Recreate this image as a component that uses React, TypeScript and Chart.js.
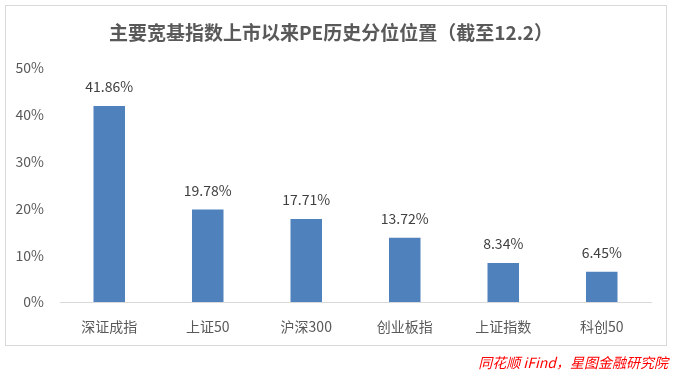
import React, { useEffect, useRef } from "react";
import { Chart, registerables } from "chart.js";

Chart.register(...registerables);

const categories = ["深证成指", "上证50", "沪深300", "创业板指", "上证指数", "科创50"];
const values = [41.86, 19.78, 17.71, 13.72, 8.34, 6.45];
const yTicks = [0, 10, 20, 30, 40, 50];
const title = "主要宽基指数上市以来PE历史分位位置（截至12.2）";
const source = "同花顺 iFind，星图金融研究院";

const FONT = "'Noto Sans CJK SC', 'Microsoft YaHei', sans-serif";

const labelPlugin = {
  id: "barLabels",
  afterDatasetsDraw(chart: any) {
    const { ctx } = chart;
    const meta = chart.getDatasetMeta(0);
    ctx.save();
    ctx.font = `14px ${FONT}`;
    ctx.fillStyle = "#404040";
    ctx.textAlign = "center";
    ctx.textBaseline = "middle";
    meta.data.forEach((bar: any, i: number) => {
      ctx.fillText(values[i].toFixed(2) + "%", bar.x, bar.y - 19);
    });
    ctx.restore();
  },
};

const titlePlugin = {
  id: "customTitle",
  afterDraw(chart: any) {
    const { ctx } = chart;
    ctx.save();
    ctx.font = `bold 19px ${FONT}`;
    ctx.fillStyle = "#595959";
    ctx.textAlign = "center";
    ctx.textBaseline = "middle";
    ctx.fillText(title, 331, 33);
    ctx.restore();
  },
};

export default function App() {
  const ref = useRef<HTMLCanvasElement>(null);
  useEffect(() => {
    if (!ref.current) return;
    const chart = new Chart(ref.current, {
      type: "bar",
      data: {
        labels: categories,
        datasets: [
          {
            data: values,
            backgroundColor: "#4f81bd",
            categoryPercentage: 1,
            barPercentage: 0.32,
          },
        ],
      },
      options: {
        animation: false,
        responsive: false,
        maintainAspectRatio: false,
        layout: { padding: { top: 68, left: 0, right: 22, bottom: 0 } },
        plugins: { legend: { display: false }, tooltip: { enabled: false }, title: { display: false } },
        scales: {
          x: {
            grid: { display: false, drawTicks: false },
            border: { display: true, color: "#d9d9d9", width: 1 },
            ticks: { color: "#595959", font: { size: 14, family: FONT }, padding: 16 },
            afterFit(scale: any) {
              scale.height = 71;
            },
          },
          y: {
            min: 0,
            max: 50,
            afterBuildTicks(scale: any) {
              scale.ticks = yTicks.map((v) => ({ value: v }));
            },
            grid: { display: false, drawTicks: false },
            border: { display: false },
            ticks: {
              color: "#595959",
              font: { size: 14, family: FONT },
              padding: 16,
              callback: (v: any) => v + "%",
            },
            afterFit(scale: any) {
              scale.width = 60;
            },
          },
        },
      },
      plugins: [labelPlugin, titlePlugin],
    });
    return () => chart.destroy();
  }, []);
  return (
    <div style={{ position: "fixed", left: 0, top: 0, width: 673, height: 373, background: "#fff" }}>
      <div
        style={{
          position: "absolute",
          left: 5,
          top: 5,
          width: 662,
          height: 341,
          border: "1px solid #d9d9d9",
          boxSizing: "border-box",
        }}
      />
      <canvas ref={ref} width={673} height={373} style={{ position: "absolute", left: 0, top: 0 }} />
      <div
        style={{
          position: "absolute",
          right: 5,
          top: 352,
          fontFamily: FONT,
          fontStyle: "italic",
          fontSize: 14,
          lineHeight: "20px",
          color: "#ff0000",
          whiteSpace: "nowrap",
        }}
      >
        {source}
      </div>
    </div>
  );
}
